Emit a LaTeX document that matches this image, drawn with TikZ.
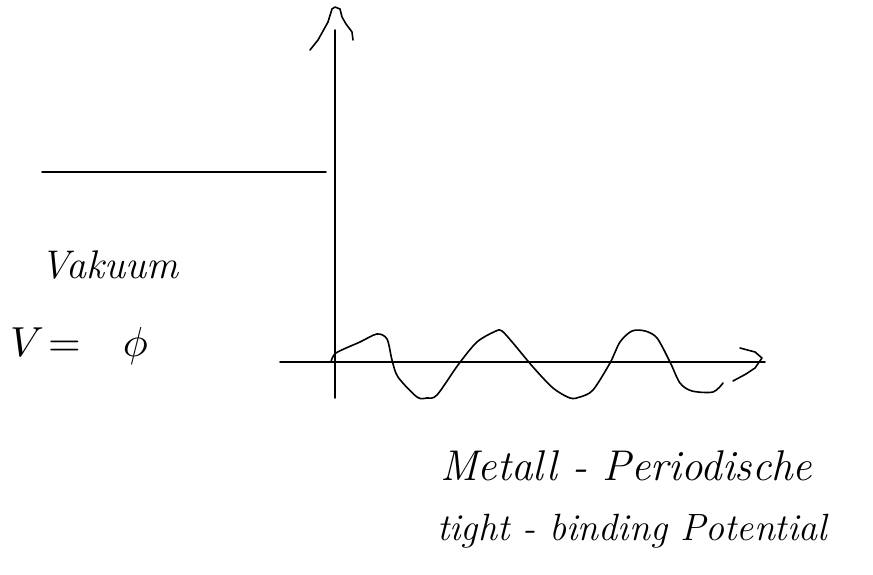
\documentclass[tikz,border=0pt]{standalone}
\usepackage{fontspec}
\begin{document}
\begin{tikzpicture}[x=1pt,y=-1pt,
  ink/.style={line width=1.6pt,line cap=round,line join=round},
  hand/.style={inner sep=0pt,font=\itshape}]
\useasboundingbox (0,0) rectangle (873,575);
% axes
\coordinate (ybot) at (335,398);
\coordinate (ytop) at (335,30);
\coordinate (xl) at (280,362);
\coordinate (xr) at (765,362);
\draw[ink] (ybot) -- (ytop);
\draw[ink] (xl) -- (xr);
% vertical arrowhead
\coordinate (ya1) at (310,50);
\coordinate (yapex) at (335,7);
\coordinate (ya2) at (353,40);
\draw[ink] (ya1) -- (318,40) -- (328,22) -- (332,9) -- (yapex) -- (340,9) -- (342,17) -- (346,24) -- (352,32) -- (ya2);
% horizontal arrowhead
\coordinate (xa1) at (740,348);
\coordinate (xtip) at (762,358);
\coordinate (xa2) at (733,381);
\draw[ink] (xa1) -- (755,352) -- (xtip) -- (755,368) -- (746,374) -- (xa2);
% vacuum level
\coordinate (v1) at (42,172);
\coordinate (v2) at (326,172);
\draw[ink] (v1) -- (v2);
% periodic potential
\draw[ink] plot[smooth,tension=0.5] coordinates {
 (331,362) (336,353) (360,342) (377,334) (387,339) (392,360) (398,377) (417,397)
 (427,398) (437,395) (458,365) (477,342) (496,331) (502,331) (513,343) (533,367)
 (553,388) (570,398) (580,397) (593,390) (610,363) (620,342) (632,331) (645,331)
 (657,338) (670,362) (680,383) (692,391) (713,392) (723,383)};
% labels
\node[hand,anchor=base west,font=\fontsize{40}{44}\selectfont\itshape] (vak) at (40,278) {Vakuum};
\node[hand,anchor=base west] (vphi) at (10,356) {\scalebox{4.2}{$V\hspace{1pt}{=}\hspace{10pt}\phi$}};
\node[hand,anchor=base west,font=\fontsize{43}{47}\selectfont\itshape] (met) at (440,480) {Metall - Periodische};
\node[hand,anchor=base west,font=\fontsize{38}{42}\selectfont\itshape] (tb) at (437,540) {tight - binding Potential};
\end{tikzpicture}
\end{document}
